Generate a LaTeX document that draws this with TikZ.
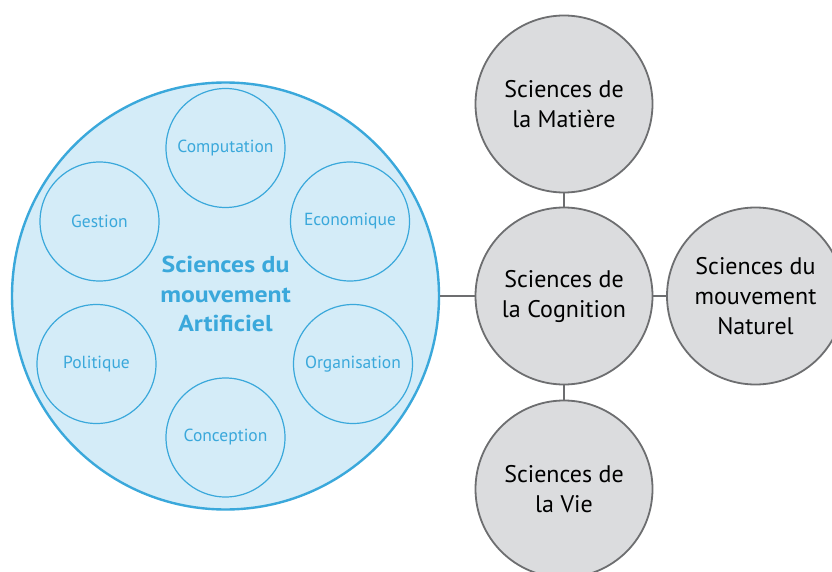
\documentclass[tikz,border=0pt]{standalone}
\usepackage{fontspec}
\setmainfont{PT Sans}
\newfontfamily\titlefont[FakeStretch=1.12]{PT Sans}
\definecolor{skyline}{HTML}{3AA8DB}
\definecolor{skyfill}{HTML}{D4ECF8}
\definecolor{greyfill}{HTML}{DBDCDE}
\definecolor{greyline}{HTML}{6D6E70}
\tikzset{
  bigblue/.style={circle, draw=skyline, fill=skyfill, line width=2.4pt, minimum size=427pt, inner sep=0pt},
  smallblue/.style={circle, draw=skyline, line width=1.2pt, minimum size=119pt, inner sep=0pt, text=skyline, font=\fontsize{17.5}{20}\selectfont},
  greydisc/.style={circle, draw=greyline, fill=greyfill, line width=1.8pt, minimum size=177pt, inner sep=0pt, align=center, font=\fontsize{24}{30}\selectfont, text=black},
  link/.style={draw=greyline, line width=1.8pt}
}
\begin{document}
\begin{tikzpicture}[x=1pt,y=-1pt]
\useasboundingbox (0,0) rectangle (832,572);
\clip (0,0) rectangle (832,572);
\fill[white] (0,0) rectangle (832,572);
\coordinate (bigc) at (225.5,296);
\node[bigblue] (big) at (bigc) {};
\node[greydisc] (cog) at (564,296) {Sciences de\\la Cognition};
\node[greydisc] (mat) at (564,104) {Sciences de\\la Matière};
\node[greydisc] (vie) at (564,489) {Sciences de\\la Vie};
\node[greydisc] (nat) at (755.5,296) {Sciences du\\mouvement\\Naturel};
\draw[link] (big.east) -- (cog.west);
\draw[link] (mat.south) -- (cog.north);
\draw[link] (cog.south) -- (vie.north);
\draw[link] (cog.east) -- (nat.west);
\node[smallblue] (comp) at (225.5,148) {Computation};
\node[smallblue] (gest) at (99.5,221.5) {Gestion};
\node[smallblue] (eco) at (350,221.5) {Economique};
\node[smallblue] (pol) at (96.5,364) {Politique};
\node[smallblue] (org) at (353,364) {Organisation};
\node[smallblue] (conc) at (225.5,437.5) {Conception};
\node[align=center, text=skyline, font=\titlefont\fontsize{23}{29.5}\selectfont\bfseries] (title) at (225.5,294) {Sciences du\\mouvement\\Artificiel};
\end{tikzpicture}
\end{document}
